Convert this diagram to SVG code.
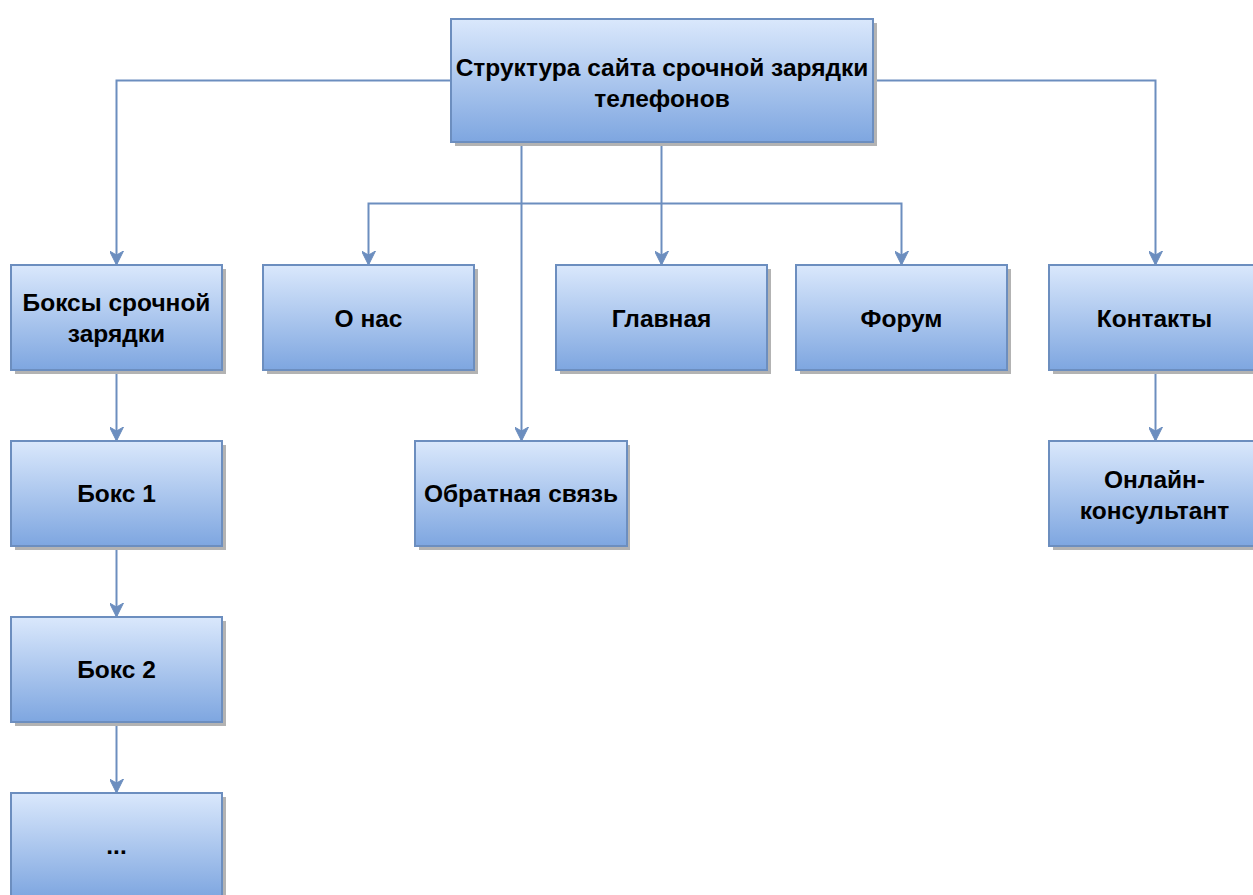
<svg xmlns="http://www.w3.org/2000/svg" width="1253" height="895" viewBox="0 0 1253 895">
<defs>
<linearGradient id="g" x1="0" y1="0" x2="0" y2="1">
<stop offset="0" stop-color="#dae8fc"/>
<stop offset="1" stop-color="#7ea6e0"/>
</linearGradient>
<marker id="arr" viewBox="0 0 14 14" refX="13" refY="7" markerWidth="14" markerHeight="14" markerUnits="userSpaceOnUse" orient="auto">
<path d="M0,0 L14,7 L0,14 L4,7 Z" fill="#6c8ebf" stroke="#6c8ebf" stroke-width="1"/>
</marker>
</defs>
<style>
.sh{fill:#b3b3b3;}
.bx{fill:url(#g);stroke:#6c8ebf;stroke-width:2;}
.t{font-family:"Liberation Sans",Arial,sans-serif;font-weight:bold;font-size:24.5px;fill:#000;text-anchor:middle;}
.c{fill:none;stroke:#6c8ebf;stroke-width:2;marker-end:url(#arr);}
</style>
<rect width="1253" height="895" fill="#fff"/>
<g id="connectors">
<path class="c" d="M451,80.5 H116.5 V264"/>
<path class="c" d="M873,80.5 H1155.5 V264"/>
<path class="c" d="M521.5,142 V440"/>
<path class="c" d="M661.5,142 V264"/>
<path class="c" d="M661.5,203.5 H368.5 V264"/>
<path class="c" d="M661.5,203.5 H901.5 V264"/>
<path class="c" d="M116.5,370 V440"/>
<path class="c" d="M116.5,547 V616"/>
<path class="c" d="M116.5,723 V792"/>
<path class="c" d="M1155.5,370 V440"/>
</g>
<g id="n-root">
<rect class="sh" x="455" y="23" width="422" height="123"/>
<rect class="bx" x="451" y="19" width="422" height="123"/>
<text class="t" x="662" y="76">Структура сайта срочной зарядки</text>
<text class="t" x="662" y="107">телефонов</text>
</g>
<g id="n-boxes">
<rect class="sh" x="15" y="269" width="211" height="105"/>
<rect class="bx" x="11" y="265" width="211" height="105"/>
<text class="t" x="116.5" y="311">Боксы срочной</text>
<text class="t" x="116.5" y="342">зарядки</text>
</g>
<g id="n-about">
<rect class="sh" x="267" y="269" width="211" height="105"/>
<rect class="bx" x="263" y="265" width="211" height="105"/>
<text class="t" x="368.5" y="327">О нас</text>
</g>
<g id="n-main">
<rect class="sh" x="560" y="269" width="211" height="105"/>
<rect class="bx" x="556" y="265" width="211" height="105"/>
<text class="t" x="661.5" y="327">Главная</text>
</g>
<g id="n-forum">
<rect class="sh" x="800" y="269" width="211" height="105"/>
<rect class="bx" x="796" y="265" width="211" height="105"/>
<text class="t" x="901.5" y="327">Форум</text>
</g>
<g id="n-contacts">
<rect class="sh" x="1053" y="269" width="211" height="105"/>
<rect class="bx" x="1049" y="265" width="211" height="105"/>
<text class="t" x="1154.5" y="327">Контакты</text>
</g>
<g id="n-box1">
<rect class="sh" x="15" y="445" width="211" height="105"/>
<rect class="bx" x="11" y="441" width="211" height="105"/>
<text class="t" x="116.5" y="502">Бокс 1</text>
</g>
<g id="n-feedback">
<rect class="sh" x="419" y="445" width="211" height="105"/>
<rect class="bx" x="415" y="441" width="212" height="105"/>
<text class="t" x="521" y="502">Обратная связь</text>
</g>
<g id="n-online">
<rect class="sh" x="1053" y="445" width="211" height="105"/>
<rect class="bx" x="1049" y="441" width="211" height="105"/>
<text class="t" x="1154.5" y="488">Онлайн-</text>
<text class="t" x="1154.5" y="519">консультант</text>
</g>
<g id="n-box2">
<rect class="sh" x="15" y="621" width="211" height="105"/>
<rect class="bx" x="11" y="617" width="211" height="105"/>
<text class="t" x="116.5" y="678">Бокс 2</text>
</g>
<g id="n-more">
<rect class="sh" x="15" y="797" width="211" height="105"/>
<rect class="bx" x="11" y="793" width="211" height="105"/>
<text class="t" x="116.5" y="854">...</text>
</g>
</svg>
